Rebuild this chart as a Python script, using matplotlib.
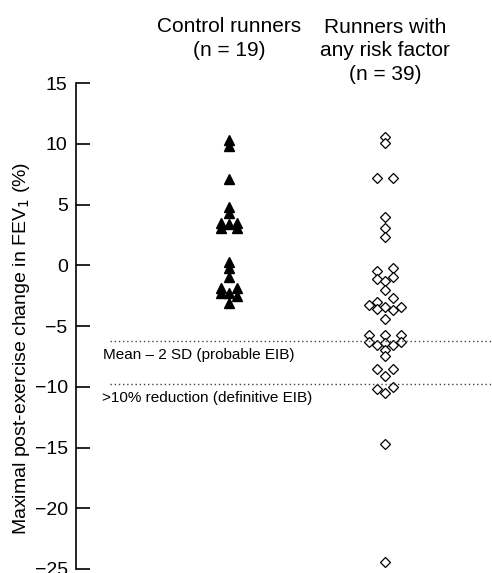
import matplotlib.pyplot as plt

plt.rcParams["font.family"] = ["Liberation Sans", "DejaVu Sans"]

# Control runners (n = 19), % change in FEV1
control = [10.3, 9.8, 7.1,
           4.8, 4.3, 3.5, 3.1, 3.4, 3.5, 3.1,
           0.25, -0.25, -1.0, -1.9, -2.3, -2.3, -1.9, -2.5, -3.1]
control_slot = [0, 0, 0,
                0, 0, -1, -1, 0, 1, 1,
                0, 0, 0, -1, -1, 0, 1, 1, 0]

# Runners with any risk factor (n = 39)
risk = [10.6, 10.1, 7.2, 7.2, 4.0, 3.1, 2.3,
        -0.5, -0.2, -1.1, -1.0, -1.3, -2.0,
        -2.7, -3.0, -3.3, -3.6, -3.4, -3.7, -3.4, -4.4,
        -5.7, -5.7, -5.7,
        -6.3, -6.6, -6.4, -6.6, -6.3,
        -7.0, -7.5,
        -8.5, -8.5, -9.1,
        -10.0, -10.2, -10.5,
        -14.7, -24.4]
risk_slot = [0, 0, -1, 1, 0, 0, 0,
             -1, 1, -1, 1, 0, 0,
             1, -1, -2, -1, 0, 1, 2, 0,
             -2, 0, 2,
             -2, -1, 0, 1, 2,
             0, 0,
             -1, 1, 0,
             1, -1, 0,
             0, 0]

mean_2sd = -6.2
definitive = -9.8

fig = plt.figure(figsize=(4.92, 5.73), dpi=100)
ax = fig.add_axes([0.1545, 0.007, 0.8455, 0.848])

step = 0.051
ax.plot([1 + s * step for s in control_slot], control, linestyle="none",
        marker="^", markersize=7, color="black", clip_on=False)
ax.plot([2 + s * step for s in risk_slot], risk, linestyle="none",
        marker="D", markersize=4.6, markerfacecolor="white",
        markeredgecolor="black", markeredgewidth=0.9, clip_on=False)

ax.axhline(mean_2sd, xmin=0.082, xmax=1, color="#444444", linewidth=1,
           linestyle=(0, (1, 2)))
ax.axhline(definitive, xmin=0.082, xmax=1, color="#444444", linewidth=1,
           linestyle=(0, (1, 2)))
ax.text(0.065, -7.4, "Mean \u2013 2 SD (probable EIB)", transform=ax.get_yaxis_transform(),
        fontsize=11, va="center", ha="left")
ax.text(0.063, -10.9, ">10% reduction (definitive EIB)", transform=ax.get_yaxis_transform(),
        fontsize=11, va="center", ha="left")

ax.set_xlim(0.019, 2.686)
ax.set_ylim(-25, 15)
ax.set_yticks([15, 10, 5, 0, -5, -10, -15, -20, -25])
ax.set_yticklabels(["15", "10", "5", "0", "\u22125", "\u221210", "\u221215", "\u221220", "\u221225"])
ax.set_xticks([])
for side in ["top", "right", "bottom"]:
    ax.spines[side].set_visible(False)
ax.spines["left"].set_linewidth(1.2)
ax.tick_params(axis="y", direction="in", length=10, width=1.2, labelsize=14, pad=6)

ax.set_ylabel("Maximal post-exercise change in FEV$_1$ (%)", fontsize=14)
ax.yaxis.set_label_coords(-0.105, 0.455)

ax.text(1, 1.0921, "Control runners\n(n = 19)", transform=ax.get_xaxis_transform(),
        ha="center", va="center", fontsize=15, linespacing=1.3)
ax.text(2, 1.0669, "Runners with\nany risk factor\n(n = 39)", transform=ax.get_xaxis_transform(),
        ha="center", va="center", fontsize=15, linespacing=1.3)

fig.savefig("out.png", dpi=100)
